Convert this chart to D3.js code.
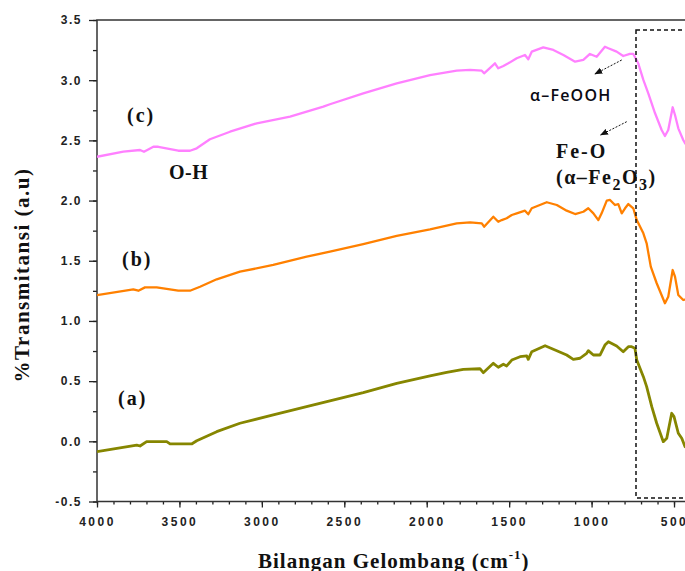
<!DOCTYPE html>
<html><head><meta charset="utf-8">
<script src="https://cdn.jsdelivr.net/npm/d3@7"></script>
<style>body{margin:0;background:#fff;} svg{display:block}</style>
</head><body>
<svg id="c" width="685" height="571"></svg>
<script>
// ---- data ----
const xTicks = [4000, 3500, 3000, 2500, 2000, 1500, 1000, 500];
const yTicks = [-0.5, 0, 0.5, 1, 1.5, 2, 2.5, 3, 3.5];
const seriesNames = ["(a)", "(b)", "(c)"];
const seriesA = [[4000,-0.086],[3759,-0.031],[3739,-0.039],[3699,-0.003],[3577,-0.003],[3557,-0.022],[3426,-0.022],[3395,0.005],[3274,0.080],[3133,0.150],[2931,0.219],[2729,0.288],[2526,0.357],[2385,0.404],[2182,0.482],[1980,0.543],[1879,0.573],[1778,0.598],[1677,0.603],[1657,0.570],[1596,0.648],[1566,0.615],[1535,0.640],[1515,0.626],[1484,0.675],[1434,0.703],[1393,0.709],[1384,0.681],[1363,0.744],[1282,0.794],[1211,0.753],[1151,0.717],[1111,0.681],[1070,0.690],[1030,0.731],[1020,0.753],[989,0.717],[949,0.717],[919,0.800],[898,0.828],[848,0.792],[808,0.744],[777,0.786],[757,0.786],[737,0.773],[726,0.675],[686,0.537],[666,0.454],[635,0.288],[605,0.150],[565,-0.003],[544,0.025],[514,0.233],[500,0.205],[474,0.067],[453,0.025],[433,-0.045],[410,-0.06]];
const seriesB = [[4000,1.215],[3780,1.263],[3749,1.251],[3709,1.279],[3638,1.279],[3507,1.251],[3436,1.251],[3375,1.284],[3274,1.346],[3133,1.409],[2931,1.465],[2728,1.534],[2587,1.575],[2385,1.639],[2182,1.706],[1980,1.761],[1818,1.811],[1737,1.819],[1666,1.811],[1652,1.783],[1596,1.866],[1566,1.824],[1545,1.838],[1515,1.853],[1484,1.880],[1454,1.894],[1404,1.916],[1384,1.886],[1363,1.936],[1272,1.986],[1211,1.963],[1151,1.916],[1100,1.888],[1050,1.907],[1020,1.936],[989,1.894],[959,1.838],[939,1.894],[908,1.999],[888,2.005],[858,1.963],[838,1.971],[817,1.894],[797,1.936],[777,1.971],[747,1.936],[726,1.838],[686,1.728],[666,1.645],[641,1.451],[605,1.313],[555,1.147],[535,1.201],[508,1.423],[494,1.368],[474,1.215],[444,1.174],[420,1.18]];
const seriesC = [[4000,2.364],[3840,2.406],[3739,2.420],[3715,2.405],[3658,2.447],[3628,2.447],[3507,2.414],[3436,2.414],[3395,2.434],[3315,2.509],[3193,2.572],[3031,2.642],[2829,2.697],[2627,2.78],[2587,2.80],[2385,2.891],[2182,2.974],[1980,3.043],[1818,3.079],[1737,3.085],[1666,3.079],[1652,3.057],[1586,3.140],[1566,3.099],[1535,3.118],[1505,3.140],[1454,3.182],[1404,3.209],[1384,3.174],[1363,3.237],[1293,3.273],[1232,3.251],[1171,3.209],[1100,3.154],[1050,3.168],[1010,3.218],[969,3.195],[919,3.278],[898,3.265],[848,3.237],[808,3.201],[768,3.218],[747,3.218],[717,3.140],[686,3.002],[656,2.891],[615,2.725],[575,2.586],[555,2.536],[535,2.586],[508,2.775],[494,2.711],[474,2.600],[444,2.503],[433,2.476],[410,2.44]];
const seriesColors = ["#868600", "#ff8000", "#ff80ff"];

// ---- chart ----
const svg = d3.select("#c");
const L = 97, T = 20, B = 501.5, R = 690.5;
const x = d3.scaleLinear().domain([4000, 400]).range([L, R]);
const y = d3.scaleLinear().domain([-0.5, 3.5]).range([B, T]);

svg.append("defs").append("clipPath").attr("id", "clip")
  .append("rect").attr("x", L).attr("y", T).attr("width", R - L).attr("height", B - T);
const mk = svg.select("defs").append("marker").attr("id", "arr")
  .attr("viewBox", "0 0 10 10").attr("refX", 9).attr("refY", 5)
  .attr("markerWidth", 8).attr("markerHeight", 8).attr("orient", "auto");
mk.append("path").attr("d", "M0,1 L10,5 L0,9 Z").attr("fill", "#111");

const tickFont = "'Liberation Sans', Arial, sans-serif";
const serif = "'Liberation Serif', 'Times New Roman', serif";

// minor ticks
svg.append("g").attr("transform", `translate(0,${B})`)
  .call(d3.axisBottom(x).tickValues(d3.range(4000, 399, -100)).tickSize(3).tickSizeOuter(0).tickFormat(""))
  .call(g => g.select(".domain").remove())
  .selectAll("line").attr("stroke", "#222").attr("stroke-width", 1.3);
svg.append("g").attr("transform", `translate(${L},0)`)
  .call(d3.axisLeft(y).tickValues(d3.range(-0.5, 3.51, 0.25)).tickSize(4).tickSizeOuter(0).tickFormat(""))
  .call(g => g.select(".domain").remove())
  .selectAll("line").attr("stroke", "#222").attr("stroke-width", 1.3);

// major ticks
const gx = svg.append("g").attr("transform", `translate(0,${B})`)
  .call(d3.axisBottom(x).tickValues(xTicks).tickSize(6).tickPadding(10).tickSizeOuter(0).tickFormat(d => String(d)));
gx.select(".domain").remove();
gx.selectAll("line").attr("stroke", "#222").attr("stroke-width", 1.3);
gx.selectAll("text").attr("font-family", tickFont).attr("font-weight", "bold")
  .attr("font-size", 12).attr("letter-spacing", "2.5px").attr("fill", "#222");

const gy = svg.append("g").attr("transform", `translate(${L},0)`)
  .call(d3.axisLeft(y).tickValues(yTicks).tickSize(8).tickPadding(7).tickSizeOuter(0).tickFormat(d => d.toFixed(1)));
gy.select(".domain").remove();
gy.selectAll("line").attr("stroke", "#222").attr("stroke-width", 1.3);
gy.selectAll("text").attr("font-family", tickFont).attr("font-weight", "bold")
  .attr("font-size", 12).attr("letter-spacing", "1.5px").attr("fill", "#222");

// frame
svg.append("path")
  .attr("d", `M${L},${B} L${L},${T} L${R},${T} L${R},${B} Z`)
  .attr("fill", "none").attr("stroke", "#333").attr("stroke-width", 1.5);

// curves
const line = d3.line().x(d => x(d[0])).y(d => y(d[1]));
const plot = svg.append("g").attr("clip-path", "url(#clip)");
[seriesA, seriesB, seriesC].forEach((s, i) => {
  plot.append("path").datum(s).attr("d", line)
    .attr("fill", "none").attr("stroke", seriesColors[i])
    .attr("stroke-width", i === 0 ? 2.8 : 2.3).attr("stroke-linejoin", "round");
});

// dashed box
svg.append("rect").attr("x", 636).attr("y", 30).attr("width", 80).attr("height", 468)
  .attr("fill", "none").attr("stroke", "#111").attr("stroke-width", 1.5).attr("stroke-dasharray", "4,3");

// arrows
[[621.7, 60, 595, 74], [626.7, 121.7, 600.7, 135]].forEach(a => {
  svg.append("line").attr("x1", a[0]).attr("y1", a[1]).attr("x2", a[2]).attr("y2", a[3])
    .attr("stroke", "#111").attr("stroke-width", 1).attr("stroke-dasharray", "2,1.5")
    .attr("marker-end", "url(#arr)");
});

// labels
const lab = (t, xx, yy, size, ls) => svg.append("text").attr("x", xx).attr("y", yy)
  .attr("font-family", serif).attr("font-weight", "bold").attr("font-size", size)
  .attr("letter-spacing", ls + "px").attr("fill", "#111").text(t);
lab(seriesNames[2], 127, 122, 20, 2);
lab(seriesNames[1], 122, 266, 20, 2);
lab(seriesNames[0], 118, 405, 20, 2);
lab("O-H", 169, 179, 20, 0.5);
lab("Fe-O", 556, 158, 20, 2);

const fe = svg.append("text").attr("x", 556).attr("y", 184)
  .attr("font-family", serif).attr("font-weight", "bold").attr("font-size", 20)
  .attr("letter-spacing", "1.5px").attr("fill", "#111");
fe.append("tspan").text("(α–Fe");
fe.append("tspan").attr("dy", 6).attr("font-size", 16).text("2");
fe.append("tspan").attr("dy", -6).text("O");
fe.append("tspan").attr("dy", 6).attr("font-size", 16).text("3");
fe.append("tspan").attr("dy", -6).text(")");

svg.append("text").attr("x", 530).attr("y", 101)
  .attr("font-family", "'Open Sans', 'Liberation Sans', sans-serif").attr("font-size", 16)
  .attr("font-weight", 600).attr("letter-spacing", "1.2px").attr("fill", "#0a0a14").text("α–FeOOH");

// axis titles
const xt = svg.append("text").attr("x", (L + R) / 2).attr("y", 568).attr("text-anchor", "middle")
  .attr("font-family", serif).attr("font-weight", "bold").attr("font-size", 21)
  .attr("letter-spacing", "1px").attr("fill", "#111");
xt.append("tspan").text("Bilangan Gelombang (cm");
xt.append("tspan").attr("dy", -9).attr("font-size", 13).text("-1");
xt.append("tspan").attr("dy", 9).text(")");

svg.append("text").attr("transform", "translate(29,275) rotate(-90)").attr("text-anchor", "middle")
  .attr("font-family", serif).attr("font-weight", "bold").attr("font-size", 21)
  .attr("letter-spacing", "1.5px").attr("fill", "#111").text("%Transmitansi (a.u)");
</script>
</body></html>
